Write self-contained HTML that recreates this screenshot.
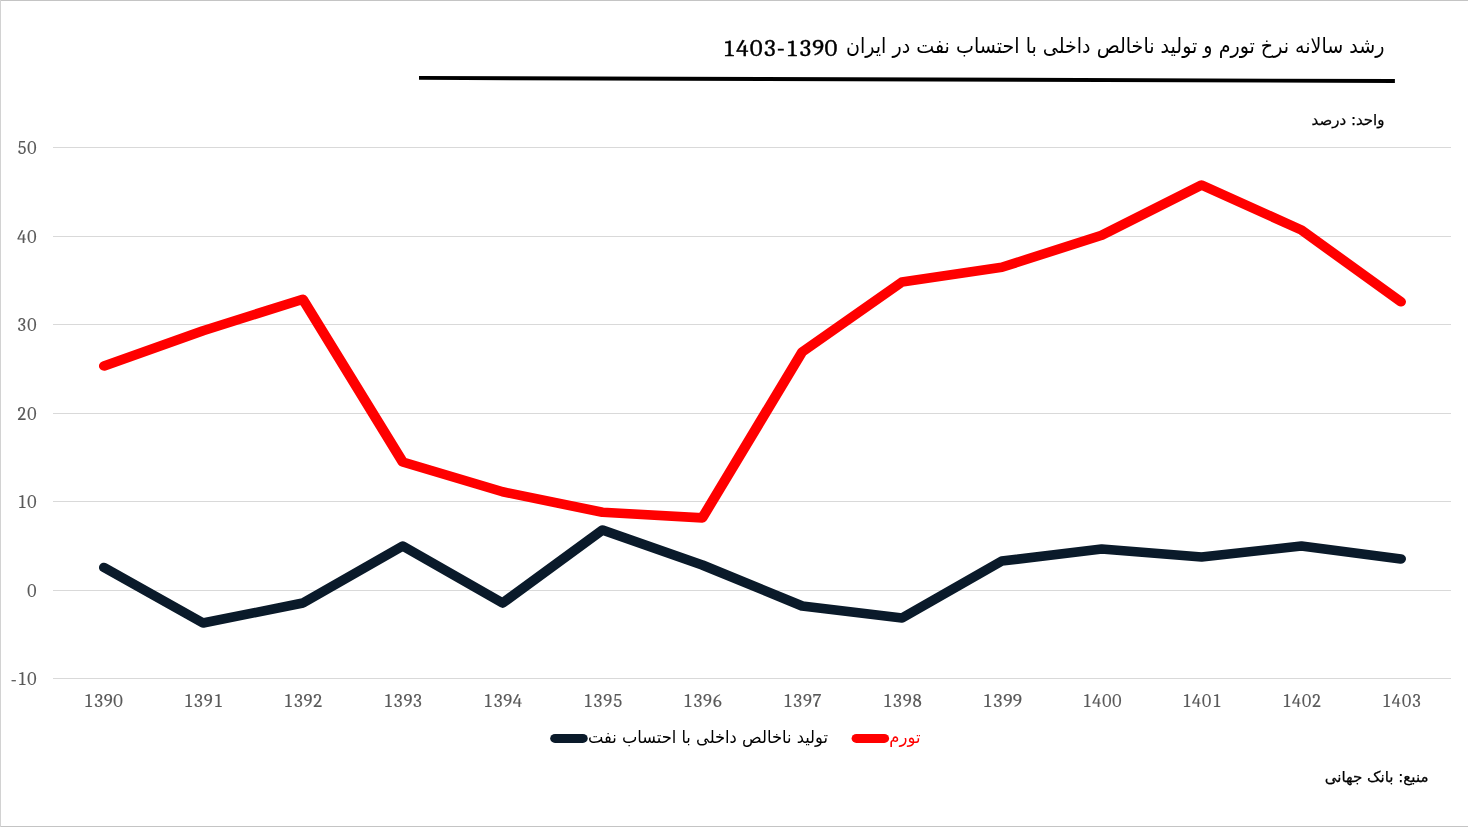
<!DOCTYPE html>
<html lang="fa">
<head>
<meta charset="utf-8">
<title>رشد سالانه نرخ تورم و تولید ناخالص داخلی</title>
<style>
html,body{margin:0;padding:0;background:#fff;}
body{width:1468px;height:827px;overflow:hidden;position:relative;}
svg{position:absolute;left:0;top:0;display:block;}
.num{font-family:"Caladea","Liberation Serif",serif;font-size:18.2px;fill:#595959;stroke:#595959;stroke-width:0.1px;font-feature-settings:"tnum" 1,"kern" 0;font-variant-numeric:tabular-nums;font-kerning:none;}
.ar{font-family:"DejaVu Sans","Liberation Sans",sans-serif;}
</style>
</head>
<body>
<svg width="1468" height="827" viewBox="0 0 1468 827">
<rect x="0" y="0" width="1468" height="827" fill="#ffffff"/>
<rect x="0" y="0" width="1468" height="1" fill="#c4c4c4"/>
<rect x="0" y="826" width="1468" height="1" fill="#c4c4c4"/>
<rect x="0" y="0" width="1" height="827" fill="#d2d2d2"/>
<g fill="#d9d9d9">
<rect x="53" y="147" width="1398" height="1"/>
<rect x="53" y="236" width="1398" height="1"/>
<rect x="53" y="324" width="1398" height="1"/>
<rect x="53" y="413" width="1398" height="1"/>
<rect x="53" y="501" width="1398" height="1"/>
<rect x="53" y="590" width="1398" height="1"/>
<rect x="53" y="678" width="1398" height="1"/>
</g>
<g class="num" text-anchor="end">
<text x="36.8" y="153.5" textLength="20.1" lengthAdjust="spacingAndGlyphs">50</text>
<text x="36.8" y="242.5" textLength="20.1" lengthAdjust="spacingAndGlyphs">40</text>
<text x="36.8" y="330.5" textLength="20.1" lengthAdjust="spacingAndGlyphs">30</text>
<text x="36.8" y="419.5" textLength="20.1" lengthAdjust="spacingAndGlyphs">20</text>
<text x="36.8" y="507.5" textLength="20.1" lengthAdjust="spacingAndGlyphs">10</text>
<text x="36.8" y="596.5" textLength="10.0" lengthAdjust="spacingAndGlyphs">0</text>
<text x="36.8" y="684.5" textLength="26.1" lengthAdjust="spacingAndGlyphs">-10</text>
</g>
<g class="num" text-anchor="middle">
<text x="103.1" y="707.1" textLength="40.1" lengthAdjust="spacingAndGlyphs">1390</text>
<text x="203.0" y="707.1" textLength="40.1" lengthAdjust="spacingAndGlyphs">1391</text>
<text x="302.9" y="707.1" textLength="40.1" lengthAdjust="spacingAndGlyphs">1392</text>
<text x="402.7" y="707.1" textLength="40.1" lengthAdjust="spacingAndGlyphs">1393</text>
<text x="502.6" y="707.1" textLength="40.1" lengthAdjust="spacingAndGlyphs">1394</text>
<text x="602.5" y="707.1" textLength="40.1" lengthAdjust="spacingAndGlyphs">1395</text>
<text x="702.3" y="707.1" textLength="40.1" lengthAdjust="spacingAndGlyphs">1396</text>
<text x="802.2" y="707.1" textLength="40.1" lengthAdjust="spacingAndGlyphs">1397</text>
<text x="902.0" y="707.1" textLength="40.1" lengthAdjust="spacingAndGlyphs">1398</text>
<text x="1001.9" y="707.1" textLength="40.1" lengthAdjust="spacingAndGlyphs">1399</text>
<text x="1101.8" y="707.1" textLength="40.1" lengthAdjust="spacingAndGlyphs">1400</text>
<text x="1201.6" y="707.1" textLength="40.1" lengthAdjust="spacingAndGlyphs">1401</text>
<text x="1301.5" y="707.1" textLength="40.1" lengthAdjust="spacingAndGlyphs">1402</text>
<text x="1401.4" y="707.1" textLength="40.1" lengthAdjust="spacingAndGlyphs">1403</text>
</g>
<g transform="scale(1.07,1)" fill="none" stroke-width="9.6" stroke-linecap="round" stroke-linejoin="round">
<polyline points="97.29,365.98 189.77,330.70 283.08,299.30 376.40,462.00 469.72,491.80 563.04,512.30 656.36,517.90 749.67,352.00 842.99,282.00 936.31,267.30 1029.63,235.20 1122.94,185.00 1216.26,230.00 1309.21,301.81" stroke="#ff0000"/>
<polyline points="97.29,567.50 189.77,623.00 283.08,603.00 376.40,546.00 469.72,603.00 563.04,530.00 656.36,565.00 749.67,606.00 842.99,618.00 936.31,561.00 1029.63,549.00 1122.94,557.00 1216.26,546.00 1309.21,558.95" stroke="#0a1a2a"/>
<line x1="518.69" y1="738.4" x2="544.77" y2="738.4" stroke="#0a1a2a" stroke-width="9"/>
<line x1="800.37" y1="738.4" x2="826.45" y2="738.4" stroke="#ff0000" stroke-width="9"/>
</g>
<polygon points="419,76 1394.9,79.05 1394.9,82.9 419,79.85" fill="#000"/>
<text class="ar" x="1384.5" y="53.3" font-size="21" textLength="538.5" lengthAdjust="spacingAndGlyphs" text-anchor="start" direction="rtl" fill="#000">رشد سالانه نرخ تورم و تولید ناخالص داخلی با احتساب نفت در ایران</text>
<text x="837.8" y="56" font-size="23.8" textLength="116" lengthAdjust="spacingAndGlyphs" stroke="#000" stroke-width="0.35" text-anchor="end" fill="#000" style="font-family:'Caladea','Liberation Serif',serif;font-feature-settings:&quot;tnum&quot; 1,&quot;kern&quot; 0;font-kerning:none">1403-1390</text>
<text class="ar" x="1384.5" y="124.6" font-size="15" textLength="72.9" lengthAdjust="spacingAndGlyphs" stroke="#000" stroke-width="0.25" text-anchor="start" direction="rtl" fill="#000">واحد: درصد</text>
<text class="ar" x="1428.5" y="781.8" font-size="15.06" textLength="103.8" lengthAdjust="spacingAndGlyphs" stroke="#000" stroke-width="0.25" text-anchor="start" direction="rtl" fill="#000">منبع: بانک جهانی</text>
<text class="ar" x="828" y="743" font-size="17.4" textLength="240" lengthAdjust="spacingAndGlyphs" text-anchor="start" direction="rtl" fill="#000">تولید ناخالص داخلی با احتساب نفت</text>
<text class="ar" x="920.5" y="743" font-size="17.4" textLength="31.2" lengthAdjust="spacingAndGlyphs" text-anchor="start" direction="rtl" fill="#ff0000">تورم</text>
</svg>
</body>
</html>
